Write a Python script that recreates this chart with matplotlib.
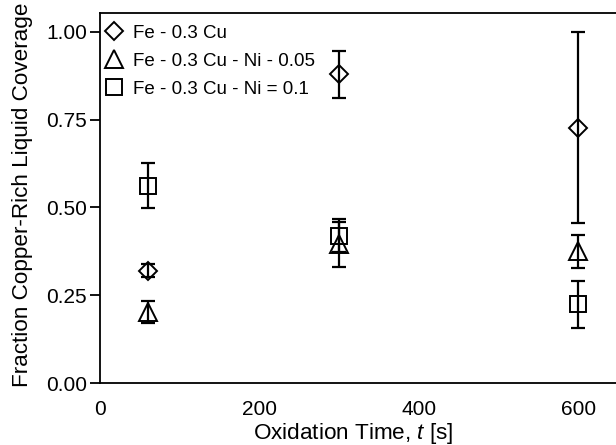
import matplotlib
matplotlib.use("Agg")
import matplotlib.pyplot as plt

plt.rcParams['font.family'] = ['Liberation Sans', 'DejaVu Sans']
plt.rcParams['mathtext.fontset'] = 'custom'
plt.rcParams['mathtext.rm'] = 'Liberation Sans'
plt.rcParams['mathtext.it'] = 'Liberation Sans:italic'

# Oxidation times [s]
times = [60, 300, 600]

# Fe - 0.3 Cu
cu_mean = [0.32, 0.88, 0.727]
cu_err = [0.018, 0.067, 0.272]

# Fe - 0.3 Cu - Ni - 0.05
ni005_mean = [0.203, 0.395, 0.375]
ni005_err = [0.031, 0.065, 0.047]

# Fe - 0.3 Cu - Ni = 0.1
ni01_mean = [0.562, 0.42, 0.225]
ni01_err = [0.064, 0.048, 0.067]

labels = ["Fe - 0.3 Cu", "Fe - 0.3 Cu - Ni - 0.05", "Fe - 0.3 Cu - Ni = 0.1"]
xticks = [0, 200, 400, 600]
yticks = [0.00, 0.25, 0.50, 0.75, 1.00]

fig = plt.figure(figsize=(6.16, 4.45), dpi=100)
ax = fig.add_axes([0.1623, 0.1393, 0.906, 0.8315])

common = dict(fmt='none', ecolor='black', elinewidth=1.6, capsize=5, capthick=1.6)
mk = dict(linestyle='none', mfc='none', mec='black', mew=1.4)

series = [
    (cu_mean, cu_err, 'D', 9.5),
    (ni005_mean, ni005_err, '^', 13.5),
    (ni01_mean, ni01_err, 's', 12),
]
handles = []
for (m, e, marker, ms), lab in zip(series, labels):
    ax.errorbar(times, m, yerr=e, **common)
    h, = ax.plot(times, m, marker=marker, markersize=ms, label=lab, **mk)
    handles.append(h)

ax.set_xlim(0, 700)
ax.set_ylim(0, 1.054)
ax.set_xticks(xticks)
ax.set_yticks(yticks)
ax.set_yticklabels([f"{v:.2f}" for v in yticks])
ax.tick_params(axis='x', length=0, labelsize=15, pad=12)
ax.set_xticks([0], minor=True)
ax.tick_params(axis='x', which='minor', length=7.5, width=1.3, direction='out')
ax.tick_params(axis='y', length=7.5, width=1.3, direction='out', labelsize=15, pad=2)
for s in ax.spines.values():
    s.set_linewidth(1.3)

ax.set_xlabel("Oxidation Time, $t$ [s]", fontsize=16.2)
ax.set_ylabel("Fraction Copper-Rich Liquid Coverage", fontsize=16.2)
ax.xaxis.set_label_coords(0.453, -0.103)
ax.yaxis.set_label_coords(-0.12, 0.508)

ax.legend(handles=handles, loc='upper left', bbox_to_anchor=(0.004, 0.978),
          frameon=False, fontsize=13.5, handlelength=0.85, handletextpad=0.6,
          borderaxespad=0, labelspacing=0.58, borderpad=0.2)

fig.savefig("out.png", dpi=100)
